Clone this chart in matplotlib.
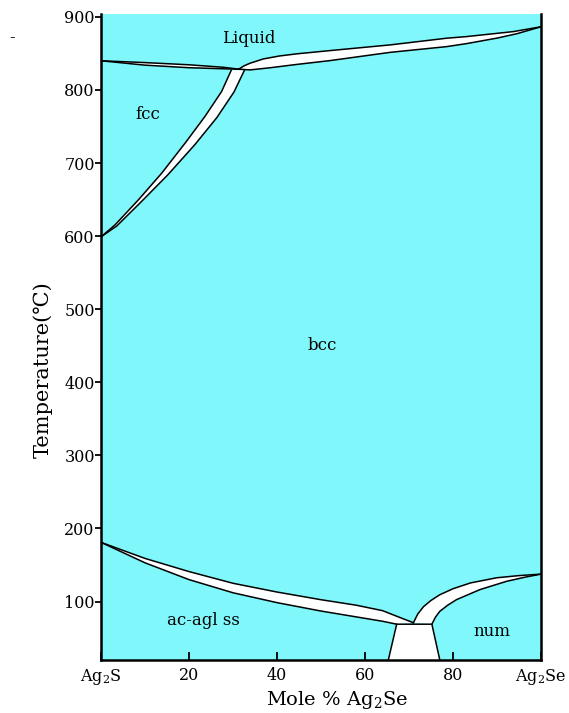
import numpy as np
import matplotlib
matplotlib.use("Agg")
import matplotlib.pyplot as plt

plt.rcParams["font.family"] = ["DejaVu Serif", "DejaVu Sans"]
plt.rcParams["mathtext.fontset"] = "dejavuserif"

# phase boundaries: (mole % Ag2Se, temperature C)
liq_left_x = [0, 10, 20, 28, 31.3]
liq_left_t = [840, 837.5, 834.5, 831, 828.5]
sol_left_x = [0, 5, 10, 20, 28, 31.3]
sol_left_t = [840, 837, 834, 830.5, 829, 828.5]

liq_right_x = [31.3, 32.5, 33.9, 36.9, 40.5, 44.5, 52.0, 65.7, 78.6, 83.1, 93.7, 100]
liq_right_t = [828.5, 833, 836.7, 842.5, 846.5, 849.5, 853.9, 861.7, 870.9, 873.1, 879.9, 886.5]
sol_right_x = [31.3, 33.9, 38.5, 44.5, 52.0, 65.7, 78.6, 83.1, 90.0, 94.5, 100]
sol_right_t = [828.5, 827.5, 830.5, 835, 840.2, 851.5, 859.4, 863.5, 871, 877, 886.5]

fcc_x = [0, 3.2, 8.5, 13.8, 19.1, 23.6, 27.4, 29.6]
fcc_t = [599, 615.5, 649.7, 686.2, 727.2, 763.6, 797.8, 827]
bcc_x = [0, 3.6, 9.3, 15.2, 21.3, 26.3, 30.2, 32.6]
bcc_t = [599, 614, 648, 684, 725, 762, 797, 827]

bcc_lo_x = [0, 10, 20, 30, 40, 50, 58, 64, 68.0, 71.0]
bcc_lo_t = [181, 159, 141, 125, 113, 102.5, 95, 87.5, 78, 71]
ac_x = [0, 10, 20, 30, 40, 50, 58, 64, 67.2]
ac_t = [181, 153, 130, 112, 98.5, 87, 79, 73, 69]

bcc_rt_x = [71.0, 72.0, 73.3, 75.0, 77.0, 80.0, 84.0, 89.9, 95.0, 100]
bcc_rt_t = [71, 83, 93, 101.5, 109.3, 117.5, 125.5, 132.5, 135.5, 137.5]
num_x = [75.2, 76.0, 77.0, 78.8, 80.8, 86.1, 92.2, 96.5, 100]
num_t = [69, 78.5, 86.6, 95, 102.6, 116.3, 127.7, 133.5, 137.5]

tie_t = 69
trap_x = [65.3, 67.2, 75.2, 77.0]
trap_t = [20, 69, 69, 20]

cyan = "#80f8fb"

fig = plt.figure(figsize=(5.69, 7.13), dpi=100)
ax = fig.add_axes([101 / 569, 1 - 660 / 713, 440 / 569, 646 / 713])
ax.set_facecolor(cyan)
ax.set_xlim(0, 100)
ax.set_ylim(20, 904)


def lens(ux, ut, lx, lt):
    px = list(ux) + list(lx)[::-1]
    pt = list(ut) + list(lt)[::-1]
    ax.fill(px, pt, color="white", lw=0, zorder=1)
    ax.plot(ux, ut, color="black", lw=1.1, zorder=3)
    ax.plot(lx, lt, color="black", lw=1.1, zorder=3)


lens(liq_left_x, liq_left_t, sol_left_x, sol_left_t)
lens(liq_right_x, liq_right_t, sol_right_x, sol_right_t)
lens(fcc_x, fcc_t, bcc_x, bcc_t)
lens(bcc_lo_x, bcc_lo_t, ac_x, ac_t)
lens(bcc_rt_x, bcc_rt_t, num_x, num_t)

ax.fill(trap_x, trap_t, color="white", lw=0, zorder=1)
ax.plot(trap_x, trap_t, color="black", lw=1.1, zorder=3)

ax.text(33.6, 870, "Liquid", ha="center", va="center", fontsize=12)
ax.text(10.7, 767, "fcc", ha="center", va="center", fontsize=12)
ax.text(50.2, 450, "bcc", ha="center", va="center", fontsize=12)
ax.text(23.2, 74, "ac-agl ss", ha="center", va="center", fontsize=12)
ax.text(88.9, 59, "num", ha="center", va="center", fontsize=12)

ax.spines["top"].set_visible(False)
for s in ["left", "right", "bottom"]:
    ax.spines[s].set_linewidth(1.8)

ax.set_yticks(range(100, 1000, 100))
ax.set_xticks([0, 20, 40, 60, 80, 100])
ax.set_xticklabels(["Ag$_2$S", "20", "40", "60", "80", "Ag$_2$Se"])
ax.tick_params(axis="y", direction="out", length=4, width=1.3, pad=0.5, labelsize=11.5)
ax.tick_params(axis="x", direction="in", length=6, width=1.3, pad=5, labelsize=11.5)

ax.set_ylabel("Temperature(\u2103)", fontsize=15)
ax.yaxis.set_label_coords(-0.109, 0.45)
fig.text(337 / 569, 1 - 689 / 713, "Mole % Ag$_2$Se", ha="center", va="top", fontsize=14)
fig.text(12 / 569, 1 - 38 / 713, "-", ha="center", va="center", fontsize=12)

fig.savefig("out.png", dpi=100)
